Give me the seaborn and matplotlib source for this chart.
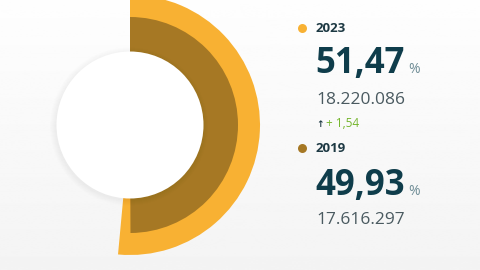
import numpy as np
import matplotlib
matplotlib.use("Agg")
import matplotlib.pyplot as plt
import seaborn as sns

# Datos
years = ["2023", "2019"]
shares = [51.47, 49.93]
totals = ["18.220.086", "17.616.297"]
pct_labels = ["51,47", "49,93"]
change_label = "+ 1,54"
colors = ["#f8b133", "#a67824"]

sns.set_theme(style="white")
plt.rcParams["font.family"] = ["Open Sans", "DejaVu Sans"]

W, H = 480, 270
fig = plt.figure(figsize=(W / 100, H / 100), dpi=100)
ax = fig.add_axes([0, 0, 1, 1])

# fondo con degradado suave
grad = np.linspace(0.995, 0.955, 256).reshape(-1, 1)
ax.imshow(grad, cmap="gray", vmin=0, vmax=1, extent=(0, W, 0, H),
          aspect="auto", zorder=0)

cx, cy = 130, 145
# anillo exterior (2023) y anillo interior (2019)
for val, col, r, w, z in [(shares[0], colors[0], 130, 60, 2),
                          (shares[1], colors[1], 108, 38, 3)]:
    wedges, _ = ax.pie([val, 100 - val], colors=[col, "none"], radius=r,
                       center=(cx, cy), startangle=90, counterclock=False,
                       wedgeprops=dict(width=w, linewidth=0))
    for wd in wedges:
        wd.set_zorder(z)

# sombra y círculo blanco central
for k in range(6):
    ax.add_patch(plt.Circle((cx - 1, cy - 1.5), 74 + k * 1.0, color="black",
                            alpha=0.008, lw=0, zorder=4))
ax.add_patch(plt.Circle((cx, cy), 73.5, color="white", lw=0, zorder=5))

ax.set_xlim(0, W)
ax.set_ylim(0, H)
ax.set_aspect("equal")
ax.axis("off")

# textos de la leyenda
x0 = 316
blocks = [(28, 73, 104), (148, 195, 224)]
for i, (y_year, y_pct, y_tot) in enumerate(blocks):
    ax.scatter([302], [H - y_year], s=42, color=colors[i], zorder=6, lw=0)
    ax.text(x0, H - y_year, years[i], fontsize=9.5, fontweight="bold",
            color="#1d3943", va="center", ha="left")
    ax.text(x0 - 1, H - y_pct, pct_labels[i], fontsize=25, fontweight="bold",
            color="#0f3d4b", va="baseline", ha="left")
    ax.text(408, H - y_pct, "%", fontsize=10, color="#6f8d96",
            va="baseline", ha="left")
    ax.text(x0, H - y_tot, totals[i], fontsize=12.5, color="#4a5a60",
            va="baseline", ha="left")

ax.text(x0, H - 127, "↑", fontsize=6.5, color="#1d3943", va="baseline",
        ha="left", fontweight="bold", family=["DejaVu Sans"])
ax.text(x0 + 10, H - 127, change_label, fontsize=8.5, color="#74b52c",
        va="baseline", ha="left")

fig.savefig("out.png", dpi=100)
plt.close(fig)
